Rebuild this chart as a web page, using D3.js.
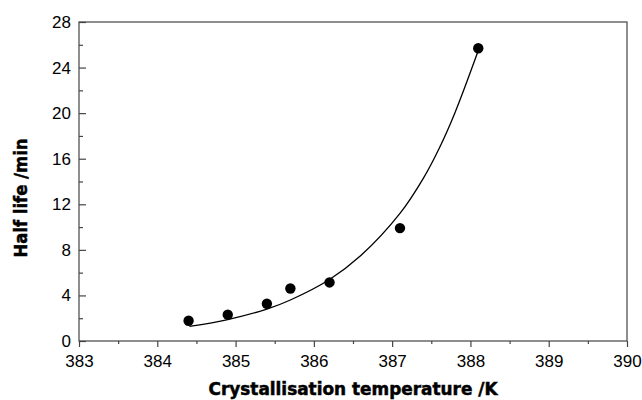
<!DOCTYPE html>
<html>
<head>
<meta charset="utf-8">
<script src="https://cdn.jsdelivr.net/npm/d3@7"></script>
<style>
  html, body { margin: 0; padding: 0; background: #fff; }
  svg { display: block; }
  .tick text { font-family: "Liberation Sans", Arial, sans-serif; font-size: 17px; fill: #000; }
  .axis-title { font-family: "DejaVu Sans", sans-serif; font-weight: bold; fill: #000; stroke: #000; stroke-width: 0.5; }
</style>
</head>
<body>
<script>
// Measured half-life at each crystallisation temperature
const temperatures = [384.4, 384.9, 385.4, 385.7, 386.2, 387.1, 388.1];
const halfLives    = [1.78, 2.31, 3.27, 4.61, 5.14, 9.91, 25.7];

// Fitted trend line, sampled along its length
const fitTemperatures = [384.41, 384.9, 385.4, 385.7, 386.2, 386.6, 387.1, 387.4, 387.6, 387.8, 388.09];
const fitHalfLives    = [1.28, 1.88, 2.8, 3.6, 5.4, 7.5, 11.2, 14.3, 16.9, 20.0, 25.3];

// Axis ticks
const xMajorTicks = [383, 384, 385, 386, 387, 388, 389, 390];
const xMinorTicks = [383.5, 384.5, 385.5, 386.5, 387.5, 388.5, 389.5];
const yMajorTicks = [0, 4, 8, 12, 16, 20, 24, 28];
const yMinorTicks = [2, 6, 10, 14, 18, 22, 26];

const xTitle = "Crystallisation temperature /K";
const yTitle = "Half life /min";

const W = 642, H = 400;
const plot = { left: 79, right: 627, top: 22, bottom: 341 };

const svg = d3.select("body").append("svg")
  .attr("width", W).attr("height", H);

const x = d3.scaleLinear().domain([383, 390]).range([plot.left, plot.right]);
const y = d3.scaleLinear().domain([0, 28]).range([plot.bottom, plot.top]);

const axisColor = "#444";

// Frame around the plotting area
svg.append("rect")
  .attr("x", plot.left).attr("y", plot.top)
  .attr("width", plot.right - plot.left).attr("height", plot.bottom - plot.top)
  .attr("fill", "none").attr("stroke", axisColor).attr("stroke-width", 1.2);

// Y axis: ticks point into the plot
const yAxis = svg.append("g").attr("transform", `translate(${plot.left},0)`)
  .call(d3.axisLeft(y).tickValues(yMajorTicks).tickSize(-7).tickPadding(8).tickFormat(d3.format("d")));
const yMinor = svg.append("g").attr("transform", `translate(${plot.left},0)`)
  .call(d3.axisLeft(y).tickValues(yMinorTicks).tickSize(-4).tickFormat(""));

// X axis: ticks point out below the plot
const xAxis = svg.append("g").attr("transform", `translate(0,${plot.bottom})`)
  .call(d3.axisBottom(x).tickValues(xMajorTicks).tickSize(6).tickPadding(8).tickFormat(d3.format("d")));
const xMinor = svg.append("g").attr("transform", `translate(0,${plot.bottom})`)
  .call(d3.axisBottom(x).tickValues(xMinorTicks).tickSize(3).tickFormat(""));

[yAxis, yMinor, xAxis, xMinor].forEach(g => {
  g.select(".domain").remove();
  g.selectAll(".tick line").attr("stroke", axisColor).attr("stroke-width", 1.2);
});

// Fitted curve
const line = d3.line()
  .x((d, i) => x(fitTemperatures[i]))
  .y(d => y(d))
  .curve(d3.curveCatmullRom.alpha(0.5));
svg.append("path")
  .attr("d", line(fitHalfLives))
  .attr("fill", "none").attr("stroke", "#000").attr("stroke-width", 1.3);

// Data points
svg.append("g").selectAll("circle")
  .data(halfLives)
  .join("circle")
  .attr("cx", (d, i) => x(temperatures[i]))
  .attr("cy", d => y(d))
  .attr("r", 5.2)
  .attr("fill", "#000");

// Axis titles
svg.append("text").attr("class", "axis-title")
  .attr("x", (plot.left + plot.right) / 2).attr("y", 395)
  .attr("text-anchor", "middle")
  .attr("font-size", 17)
  .attr("textLength", 289).attr("lengthAdjust", "spacingAndGlyphs")
  .text(xTitle);

svg.append("text").attr("class", "axis-title")
  .attr("transform", "translate(27,198) rotate(-90)")
  .attr("text-anchor", "middle")
  .attr("font-size", 17.5)
  .attr("textLength", 119).attr("lengthAdjust", "spacingAndGlyphs")
  .text(yTitle);
</script>
</body>
</html>
